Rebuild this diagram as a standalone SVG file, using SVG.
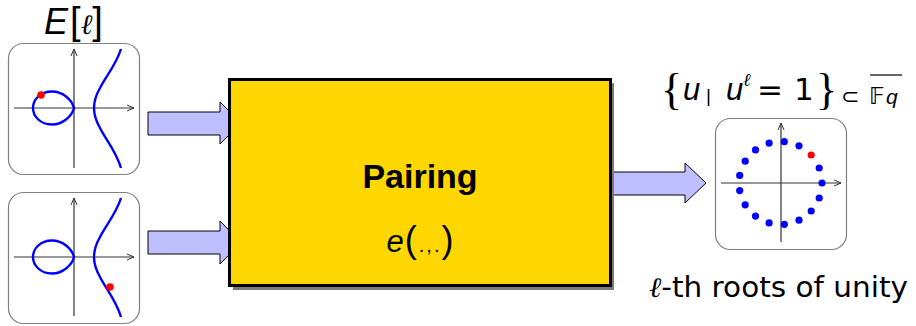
<svg xmlns="http://www.w3.org/2000/svg" width="916" height="326" viewBox="0 0 916 326">
<style>
.panel{fill:#fff;stroke:#808080;stroke-width:1.2}
.axis{stroke:#333;stroke-width:1.2;fill:none}
.curve{stroke:#0000ff;stroke-width:2.4;fill:none}
.blue{fill:#0000ff}
.red{fill:#ff0000}
.arrow{fill:#bfbfff;stroke:#000;stroke-width:1}
.sans{font-family:"DejaVu Sans","Liberation Sans",sans-serif;fill:#000}
.lib{font-family:"Liberation Sans",Arial,sans-serif;fill:#000}
.ser{font-family:"Liberation Serif","Times New Roman",serif;fill:#000}
.ell{font-family:"DejaVu Serif","Liberation Serif",serif;font-style:italic}
.it{font-style:italic}
</style>
<defs>
<marker id="ax" viewBox="0 0 8 8" refX="7" refY="4" markerWidth="8" markerHeight="8" markerUnits="userSpaceOnUse" orient="auto">
<path d="M0,1 L7,4 L0,7" fill="none" stroke="#333" stroke-width="1"/>
</marker>
<g id="curveshape">
<path class="curve" d="M74,108 C72,100 63,91.5 52,91.5 C40,91.5 33,100 33,108 C33,116 40,124.5 52,124.5 C63,124.5 72,116 74,108 Z"/>
<path class="curve" d="M121,49 C116,65 106,76 100,88 C96,95 94,101 94,108 C94,115 96,121 100,128 C106,140 116,151 121,168"/>
</g>
</defs>

<g id="connectors">
<path class="arrow" d="M148,112 L220,112 L220,102 L241,123 L220,144 L220,135 L148,135 Z"/>
<path class="arrow" d="M148,231 L220,231 L220,221 L241,242.5 L220,264 L220,254 L148,254 Z"/>
<path class="arrow" d="M606,172 L685,172 L685,163 L706,183 L685,203 L685,195 L606,195 Z"/>
</g>

<g id="node-point-P">
<rect class="panel" x="8.5" y="43.5" width="131" height="131" rx="15"/>
<line class="axis" x1="14" y1="108" x2="134" y2="108" marker-end="url(#ax)"/>
<line class="axis" x1="74" y1="168" x2="74" y2="49" marker-end="url(#ax)"/>
<use href="#curveshape"/>
<circle class="red" cx="41" cy="95" r="3.8"/>
</g>

<g id="node-point-Q">
<rect class="panel" x="8.5" y="192.5" width="131" height="131" rx="15"/>
<line class="axis" x1="14" y1="257" x2="134" y2="257" marker-end="url(#ax)"/>
<line class="axis" x1="74" y1="316" x2="74" y2="198" marker-end="url(#ax)"/>
<use href="#curveshape" transform="translate(0,149)"/>
<circle class="red" cx="110" cy="287" r="3.8"/>
</g>

<g id="node-pairing">
<rect x="233" y="83" width="381" height="207" fill="#7a7a7a"/>
<rect x="229.5" y="79.5" width="381" height="206" fill="#ffd700" stroke="#000" stroke-width="3"/>
<text class="lib" x="420" y="188" font-size="34" font-weight="bold" text-anchor="middle">Pairing</text>
<text class="lib" x="420" y="252" text-anchor="middle"><tspan class="it" font-size="31">e</tspan><tspan font-size="36" dx="1">(</tspan><tspan font-size="20" dx="2" letter-spacing="2">.,.</tspan><tspan font-size="36">)</tspan></text>
</g>

<g id="node-roots">
<rect class="panel" x="715.5" y="118.5" width="131" height="131" rx="15"/>
<line class="axis" x1="721" y1="183" x2="841" y2="183" marker-end="url(#ax)"/>
<line class="axis" x1="781" y1="242" x2="781" y2="123" marker-end="url(#ax)"/>
<g class="blue">
<circle cx="822.0" cy="183.0" r="3.6"/>
<circle cx="819.2" cy="168.0" r="3.6"/>
<circle cx="799.0" cy="145.8" r="3.6"/>
<circle cx="784.3" cy="141.7" r="3.6"/>
<circle cx="769.1" cy="143.1" r="3.6"/>
<circle cx="755.5" cy="149.9" r="3.6"/>
<circle cx="745.2" cy="161.2" r="3.6"/>
<circle cx="739.7" cy="175.4" r="3.6"/>
<circle cx="739.7" cy="190.6" r="3.6"/>
<circle cx="745.2" cy="204.8" r="3.6"/>
<circle cx="755.5" cy="216.1" r="3.6"/>
<circle cx="769.1" cy="222.9" r="3.6"/>
<circle cx="784.3" cy="224.3" r="3.6"/>
<circle cx="799.0" cy="220.2" r="3.6"/>
<circle cx="811.2" cy="211.0" r="3.6"/>
<circle cx="819.2" cy="198.0" r="3.6"/>
</g>
<circle class="red" cx="811.2" cy="155.0" r="3.6"/>
</g>

<g id="labels">
<text class="lib" x="73.5" y="34" text-anchor="middle"><tspan class="it" font-size="36">E</tspan><tspan font-size="38" dx="2">[</tspan><tspan class="ell" font-size="28">ℓ</tspan><tspan font-size="38">]</tspan></text>
<text class="ser" x="661" y="104" font-size="44">{</text>
<text class="lib it" x="683" y="100" font-size="31">u</text>
<text class="lib" x="706" y="102" font-size="19">|</text>
<text class="lib it" x="726" y="100" font-size="31">u</text>
<text class="ell" x="743" y="86" font-size="18">ℓ</text>
<text class="sans" x="757" y="100" font-size="31">=</text>
<text class="sans" x="794" y="100" font-size="31">1</text>
<text class="ser" x="816" y="104" font-size="44">}</text>
<text class="sans" x="841" y="104" font-size="22">⊂</text>
<text class="sans" x="869" y="104" font-size="23">𝔽</text>
<text class="lib it" x="886" y="104" font-size="21">q</text>
<line x1="870" y1="75" x2="902" y2="75" stroke="#000" stroke-width="1.2"/>
<text class="sans" x="649" y="297" font-size="28" textLength="259" lengthAdjust="spacingAndGlyphs"><tspan class="ell">ℓ</tspan>-th roots of unity</text>
</g>
</svg>
